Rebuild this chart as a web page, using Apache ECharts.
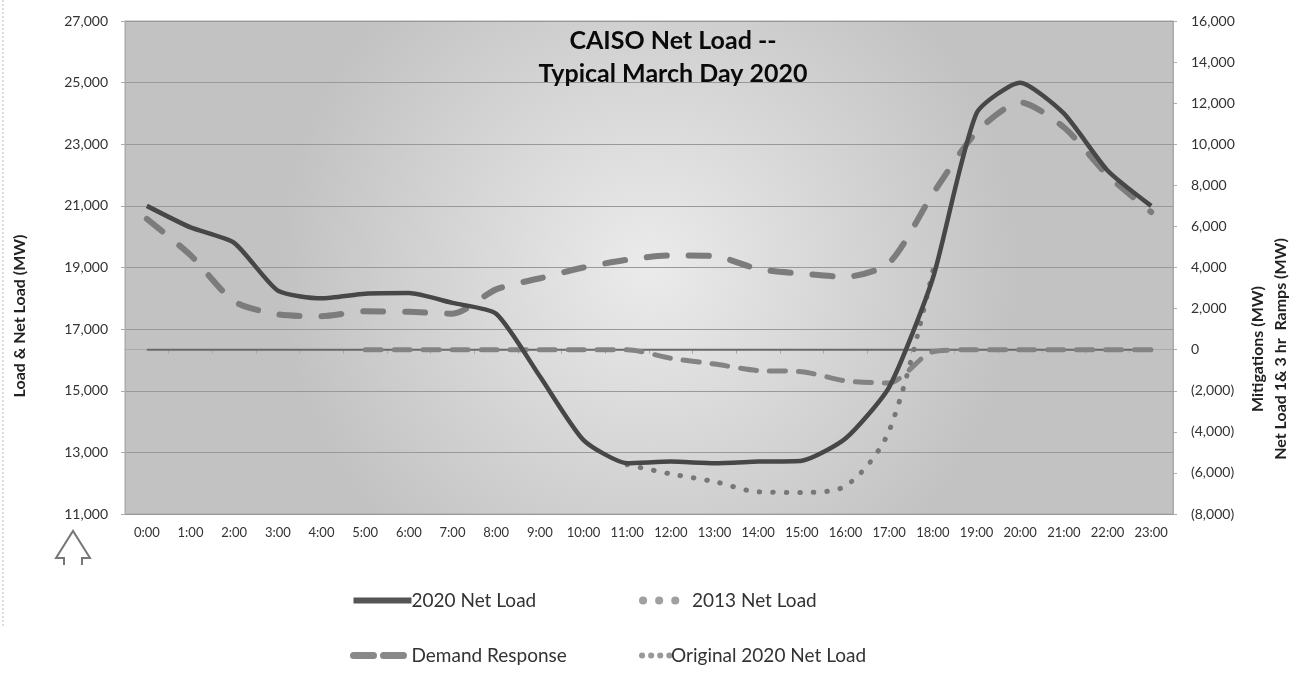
<!DOCTYPE html>
<html>
<head>
<meta charset="utf-8">
<script src="https://cdn.jsdelivr.net/npm/echarts@6/dist/echarts.min.js"></script>
<style>
html,body{margin:0;padding:0;background:#fff;}
#c{width:1291px;height:675px;}
</style>
</head>
<body>
<div id="c"></div>
<script>
const hours = ['0:00','1:00','2:00','3:00','4:00','5:00','6:00','7:00','8:00','9:00','10:00','11:00','12:00','13:00','14:00','15:00','16:00','17:00','18:00','19:00','20:00','21:00','22:00','23:00'];
const netLoad2020 = [21000,20300,19800,18250,18000,18150,18170,17850,17500,15470,13400,12650,12700,12650,12700,12730,13450,15120,18650,24000,25000,24000,22150,21000];
const netLoad2013 = [20580,19400,17900,17480,17420,17580,17560,17500,18290,18650,19000,19250,19390,19370,18950,18800,18700,19150,21390,23390,24360,23550,22000,20800];
const demandResponse = [null,null,null,null,null,0,0,0,0,0,0,0,-420,-700,-1020,-1070,-1520,-1620,-100,0,0,0,0,0];
const original2020 = [null,null,null,null,null,null,null,null,null,null,null,12600,12300,12050,11720,11700,11910,13700,18900,null,null,null,null,null];
const zeroLine = [0,0,0,0,0,0,0,0,0,0,0,0,0,0,0,0,0,0,0,0,0,0,0,0];
const leftTicks = {min:11000,max:27000,interval:2000};
const rightTicks = {min:-8000,max:16000,interval:2000};

const FONT = 'Lato';
const chart = echarts.init(document.getElementById('c'), null, {renderer:'canvas'});
function fmt(v){ return Math.abs(v).toLocaleString('en-US'); }
const noSym = {color:'rgba(0,0,0,0)',borderWidth:0,borderColor:'rgba(0,0,0,0)'};
const legText = {fontFamily:FONT,fontSize:19,color:'#333'};
chart.setOption({
  animation:false,
  backgroundColor:'#fff',
  textStyle:{fontFamily:FONT},
  title:{
    text:'CAISO Net Load --\nTypical March Day 2020',
    left:668, top:19, textAlign:'center',
    textStyle:{fontFamily:FONT,fontWeight:'bold',fontSize:25,lineHeight:33,color:'#0a0a0a'}
  },
  grid:{left:125,right:118,top:21,bottom:161,show:true,borderColor:'#a8a8a8',borderWidth:1,
    backgroundColor:{type:'radial',x:0.5,y:0.5,r:0.75,colorStops:[{offset:0,color:'#ebebeb'},{offset:1,color:'#c2c2c2'}]}},
  xAxis:{type:'category',data:hours,boundaryGap:true,
    axisLine:{lineStyle:{color:'#aaa'}},
    axisTick:{show:true,length:4,lineStyle:{color:'#aaa'}},
    axisLabel:{fontFamily:FONT,fontSize:13,color:'#333',margin:12,interval:0},
    splitLine:{show:false}},
  yAxis:[
    {type:'value',min:leftTicks.min,max:leftTicks.max,interval:leftTicks.interval,position:'left',
     axisLine:{show:true,lineStyle:{color:'#aaa',type:'dotted'}},
     axisTick:{show:true,length:4,lineStyle:{color:'#aaa'}},
     axisLabel:{fontFamily:FONT,fontSize:14,color:'#333',margin:17,formatter:v=>v.toLocaleString('en-US')},
     splitLine:{show:true,lineStyle:{color:'#999',width:1}}},
    {type:'value',min:rightTicks.min,max:rightTicks.max,interval:rightTicks.interval,position:'right',
     axisLine:{show:true,lineStyle:{color:'#aaa'}},
     axisTick:{show:true,length:4,lineStyle:{color:'#aaa'}},
     axisLabel:{fontFamily:FONT,fontSize:14,color:'#333',margin:18,
       formatter:v=> v<0 ? '('+fmt(v)+')' : fmt(v)},
     splitLine:{show:false}}
  ],
  legend:[
    {orient:'vertical',left:345,top:586,itemGap:36,itemWidth:58,itemHeight:16,
     itemStyle:noSym,
     textStyle:Object.assign({padding:[0,0,0,-5]},legText),
     data:[
       {name:'2020 Net Load',lineStyle:{color:'#555',width:6,type:'solid'}},
       {name:'Demand Response',lineStyle:{color:'#888',width:7,type:[20,10],cap:'round'}}
     ]},
    {orient:'vertical',left:634,top:586,itemWidth:44,itemHeight:16,
     itemStyle:noSym,textStyle:legText,
     data:[{name:'2013 Net Load',lineStyle:{color:'#a0a0a0',width:8,type:[0.1,16],cap:'round'}}]},
    {orient:'vertical',left:634,top:641,itemWidth:30,itemHeight:16,
     itemStyle:noSym,textStyle:Object.assign({padding:[0,0,0,-6]},legText),
     data:[{name:'Original 2020 Net Load',lineStyle:{color:'#999',width:6,type:[0.1,9],cap:'round'}}]}
  ],
  series:[
    {name:'zero',type:'line',yAxisIndex:1,data:zeroLine,symbol:'none',silent:true,
     lineStyle:{color:'#6a6a6a',width:2},z:1},
    {name:'2013 Net Load',type:'line',yAxisIndex:0,data:netLoad2013,symbol:'none',smooth:0.25,
     lineStyle:{color:'#7c7c7c',width:6,type:[20,22],cap:'round'},itemStyle:{color:'#7c7c7c'},z:2},
    {name:'Demand Response',type:'line',yAxisIndex:1,data:demandResponse,symbol:'none',smooth:0.25,
     lineStyle:{color:'#838383',width:5,type:[16,13],cap:'round'},itemStyle:{color:'#838383'},z:3},
    {name:'Original 2020 Net Load',type:'line',yAxisIndex:0,data:original2020,symbol:'none',smooth:0.3,
     lineStyle:{color:'#777',width:5,type:[0.5,13],cap:'round'},itemStyle:{color:'#777'},z:3},
    {name:'2020 Net Load',type:'line',yAxisIndex:0,data:netLoad2020,symbol:'none',smooth:0.2,
     lineStyle:{color:'#474747',width:4.5},itemStyle:{color:'#474747'},z:4}
  ],
  graphic:[
    {type:'line',shape:{x1:3,y1:0,x2:3,y2:628},style:{stroke:'#bbb',lineWidth:1,lineDash:[2,2]}},
    {type:'polyline',shape:{points:[[64,565],[64,558],[56,558],[73,531],[90,558],[82,558],[82,565]]},
     style:{stroke:'#777',lineWidth:2,fill:null}},
    {type:'text',x:20,y:316,rotation:Math.PI/2,
     style:{text:'Load & Net Load (MW)',fontFamily:FONT,fontWeight:'bold',fontSize:16,fill:'#222',textAlign:'center',textVerticalAlign:'middle'}},
    {type:'text',x:1258,y:349,rotation:Math.PI/2,
     style:{text:'Mitigations (MW)',fontFamily:FONT,fontWeight:'bold',fontSize:16,fill:'#222',textAlign:'center',textVerticalAlign:'middle'}},
    {type:'text',x:1281,y:349,rotation:Math.PI/2,
     style:{text:'Net Load 1& 3 hr  Ramps (MW)',fontFamily:FONT,fontWeight:'bold',fontSize:16,fill:'#222',textAlign:'center',textVerticalAlign:'middle'}}
  ]
});
</script>
</body>
</html>
